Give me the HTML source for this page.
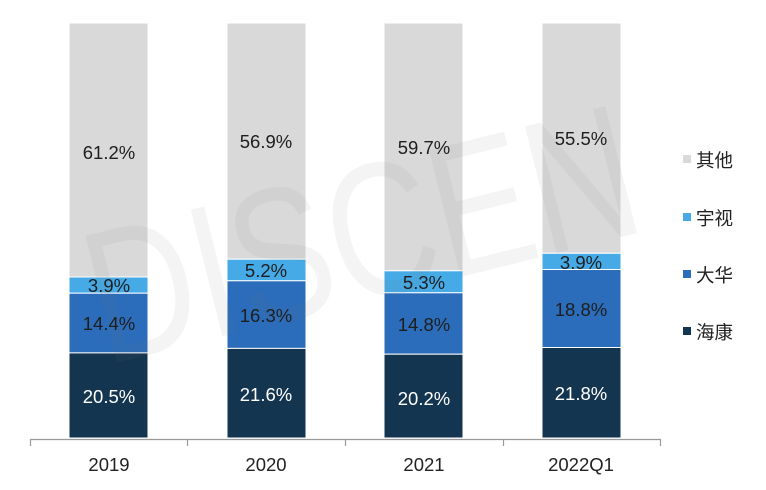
<!DOCTYPE html>
<html><head><meta charset="utf-8"><style>body{margin:0;background:#fff;overflow:hidden}svg{display:block}</style></head>
<body>
<svg width="766" height="490" xmlns="http://www.w3.org/2000/svg" font-family="Liberation Sans, Noto Sans CJK SC, sans-serif" font-size="18.5">
<g stroke="#fff" stroke-width="1">
<rect x="69" y="23" width="79" height="254" fill="#d9d9d9"/>
<rect x="69" y="277" width="79" height="16.2" fill="#45aae6"/>
<rect x="69" y="293.2" width="79" height="59.7" fill="#2b6dba"/>
<rect x="69" y="352.9" width="79" height="85.1" fill="#143550"/>
<rect x="227" y="23" width="79" height="236.2" fill="#d9d9d9"/>
<rect x="227" y="259.2" width="79" height="21.6" fill="#45aae6"/>
<rect x="227" y="280.8" width="79" height="67.6" fill="#2b6dba"/>
<rect x="227" y="348.4" width="79" height="89.6" fill="#143550"/>
<rect x="384" y="23" width="79" height="247.8" fill="#d9d9d9"/>
<rect x="384" y="270.8" width="79" height="22" fill="#45aae6"/>
<rect x="384" y="292.8" width="79" height="61.4" fill="#2b6dba"/>
<rect x="384" y="354.2" width="79" height="83.8" fill="#143550"/>
<rect x="542" y="23" width="79" height="230.3" fill="#d9d9d9"/>
<rect x="542" y="253.3" width="79" height="16.2" fill="#45aae6"/>
<rect x="542" y="269.5" width="79" height="78" fill="#2b6dba"/>
<rect x="542" y="347.5" width="79" height="90.5" fill="#143550"/>
</g>
<text x="360" y="300" font-size="190" textLength="560" lengthAdjust="spacingAndGlyphs" text-anchor="middle" fill="#777" opacity="0.07" transform="rotate(-14 360 230)">DISCEN</text>
<g text-anchor="middle" fill="#1e1e1e">
<text x="109" y="159">61.2%</text><text x="109" y="292">3.9%</text><text x="109" y="330">14.4%</text>
<text x="266" y="148">56.9%</text><text x="266" y="277">5.2%</text><text x="266" y="322">16.3%</text>
<text x="424" y="154">59.7%</text><text x="424" y="289">5.3%</text><text x="424" y="331">14.8%</text>
<text x="581" y="145">55.5%</text><text x="581" y="269">3.9%</text><text x="581" y="316">18.8%</text>
</g>
<g text-anchor="middle" fill="#fff">
<text x="109" y="403">20.5%</text><text x="266" y="401">21.6%</text><text x="424" y="405">20.2%</text><text x="581" y="400">21.8%</text>
</g>
<g stroke="#999" stroke-width="1.2" fill="none">
<line x1="30" y1="439.5" x2="661" y2="439.5"/>
<line x1="30.5" y1="439" x2="30.5" y2="446"/><line x1="187.5" y1="439" x2="187.5" y2="446"/>
<line x1="345.5" y1="439" x2="345.5" y2="446"/><line x1="503.5" y1="439" x2="503.5" y2="446"/>
<line x1="660.5" y1="439" x2="660.5" y2="446"/>
</g>
<g text-anchor="middle" fill="#222">
<text x="109" y="471">2019</text><text x="266" y="471">2020</text><text x="424" y="471">2021</text><text x="581" y="471">2022Q1</text>
</g>
<rect x="683" y="155" width="8" height="8" fill="#d9d9d9"/>
<rect x="683" y="213" width="8" height="8" fill="#45aae6"/>
<rect x="683" y="270" width="8" height="8" fill="#2b6dba"/>
<rect x="683" y="327" width="8" height="8" fill="#143550"/>
<g fill="#222">
<text x="696" y="167">其他</text><text x="696" y="225">宇视</text><text x="696" y="282">大华</text><text x="696" y="339">海康</text>
</g>
</svg>
</body></html>
